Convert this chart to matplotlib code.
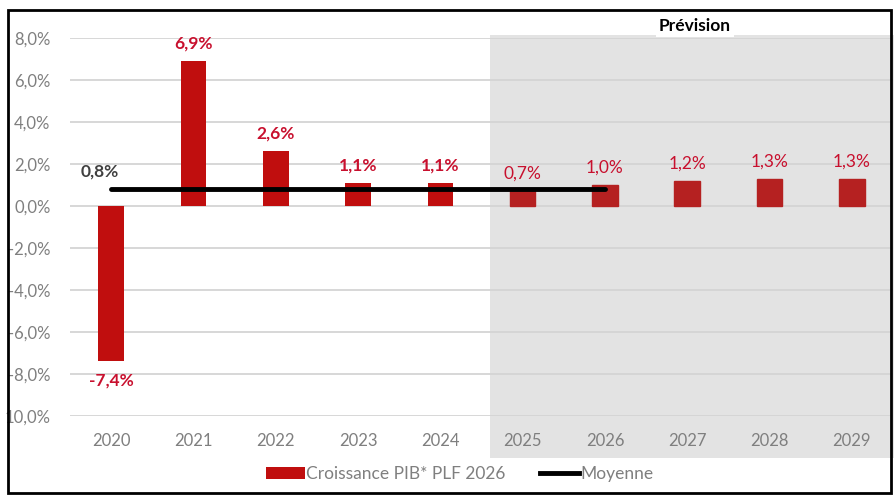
import matplotlib
matplotlib.use("Agg")
import matplotlib.pyplot as plt
from matplotlib.patches import Rectangle
from matplotlib.lines import Line2D

years = ["2020", "2021", "2022", "2023", "2024", "2025", "2026", "2027", "2028", "2029"]
growth = [-7.4, 6.9, 2.6, 1.1, 1.1, 0.7, 1.0, 1.2, 1.3, 1.3]
growth_labels = ["-7,4%", "6,9%", "2,6%", "1,1%", "1,1%", "0,7%", "1,0%", "1,2%", "1,3%", "1,3%"]
mean_value = 0.8
mean_label = "0,8%"
mean_span = ["2020", "2026"]
yticks = [8, 6, 4, 2, 0, -2, -4, -6, -8, -10]
ytick_labels = ["8,0%", "6,0%", "4,0%", "2,0%", "0,0%", "-2,0%", "-4,0%", "-6,0%", "-8,0%", "10,0%"]
forecast_start = "2025"

plt.rcParams['font.family'] = ['Lato', 'DejaVu Sans']

W, H = 894, 497
fig = plt.figure(figsize=(W / 100, H / 100), dpi=100)
fig.patch.set_facecolor("white")

ax = fig.add_axes([70 / W, 1 - 416 / H, (893 - 70) / W, (416 - 38) / H])
ax.set_facecolor("none")
x = list(range(len(years)))

ax.set_xlim(-0.5, len(years) - 0.5)
ax.set_ylim(-10, 8)

# forecast shading (figure coords)
fi = years.index(forecast_start)
x0_disp = ax.transData.transform((fi - 0.4, 0))[0]
fig.patches.append(Rectangle((x0_disp / W, 1 - 458 / H), 1 - x0_disp / W, (458 - 35) / H,
                             transform=fig.transFigure, facecolor="#E3E3E3",
                             edgecolor="none", zorder=-5))

ax.set_yticks(yticks)
ax.set_yticklabels(ytick_labels)
ax.set_xticks(x)
ax.set_xticklabels(years)
ax.yaxis.grid(True, color="#D4D4D4", linewidth=1.3, zorder=0)
ax.set_axisbelow(True)
for s in ax.spines.values():
    s.set_visible(False)
ax.tick_params(length=0, colors="#7F7F7F", labelsize=12)
ax.tick_params(axis="y", pad=14)
ax.tick_params(axis="x", pad=12)

bars = ax.bar(x, growth, width=0.31, color="#C00E0E", zorder=2,
              label="Croissance PIB* PLF 2026")
for i in range(fi, len(years)):
    bars[i].set_color("#B52121")

for i, (v, lab) in enumerate(zip(growth, growth_labels)):
    off = 0.45 if v >= 0 else -0.55
    va = "bottom" if v >= 0 else "top"
    weight = "bold" if i < fi else "normal"
    ax.text(i, v + off, lab, ha="center", va=va, color="#C8102E",
            fontsize=12.5, fontweight=weight, zorder=4)

m0, m1 = years.index(mean_span[0]), years.index(mean_span[1])
ax.plot([m0, m1], [mean_value, mean_value], color="black", linewidth=3.5,
        solid_capstyle="round", zorder=3, label="Moyenne")
ax.text(m0 - 0.14, mean_value + 0.45, mean_label, ha="center", va="bottom",
        color="#404040", fontsize=12.5, fontweight="bold")

fig.text(695 / W, 1 - 26 / H, "Prévision", ha="center", va="center",
         fontsize=12.5, fontweight="bold", color="black",
         bbox=dict(facecolor="white", edgecolor="none", pad=2))

handles = [Rectangle((0, 0), 1, 1, facecolor="#C00E0E"),
           Line2D([0], [0], color="black", linewidth=3.5)]
fig.legend(handles, ["Croissance PIB* PLF 2026", "Moyenne"], loc="center",
           bbox_to_anchor=(460 / W, 1 - 474 / H), ncol=2, frameon=False,
           fontsize=12.5, labelcolor="#7F7F7F", handlelength=2.2,
           handletextpad=0.1, columnspacing=2.0)

fig.patches.append(Rectangle((8 / W, 1 - 493 / H), (891 - 8) / W, (493 - 10) / H,
                             transform=fig.transFigure, facecolor="none",
                             edgecolor="black", linewidth=2, zorder=10))

fig.savefig("out.png", dpi=100)
